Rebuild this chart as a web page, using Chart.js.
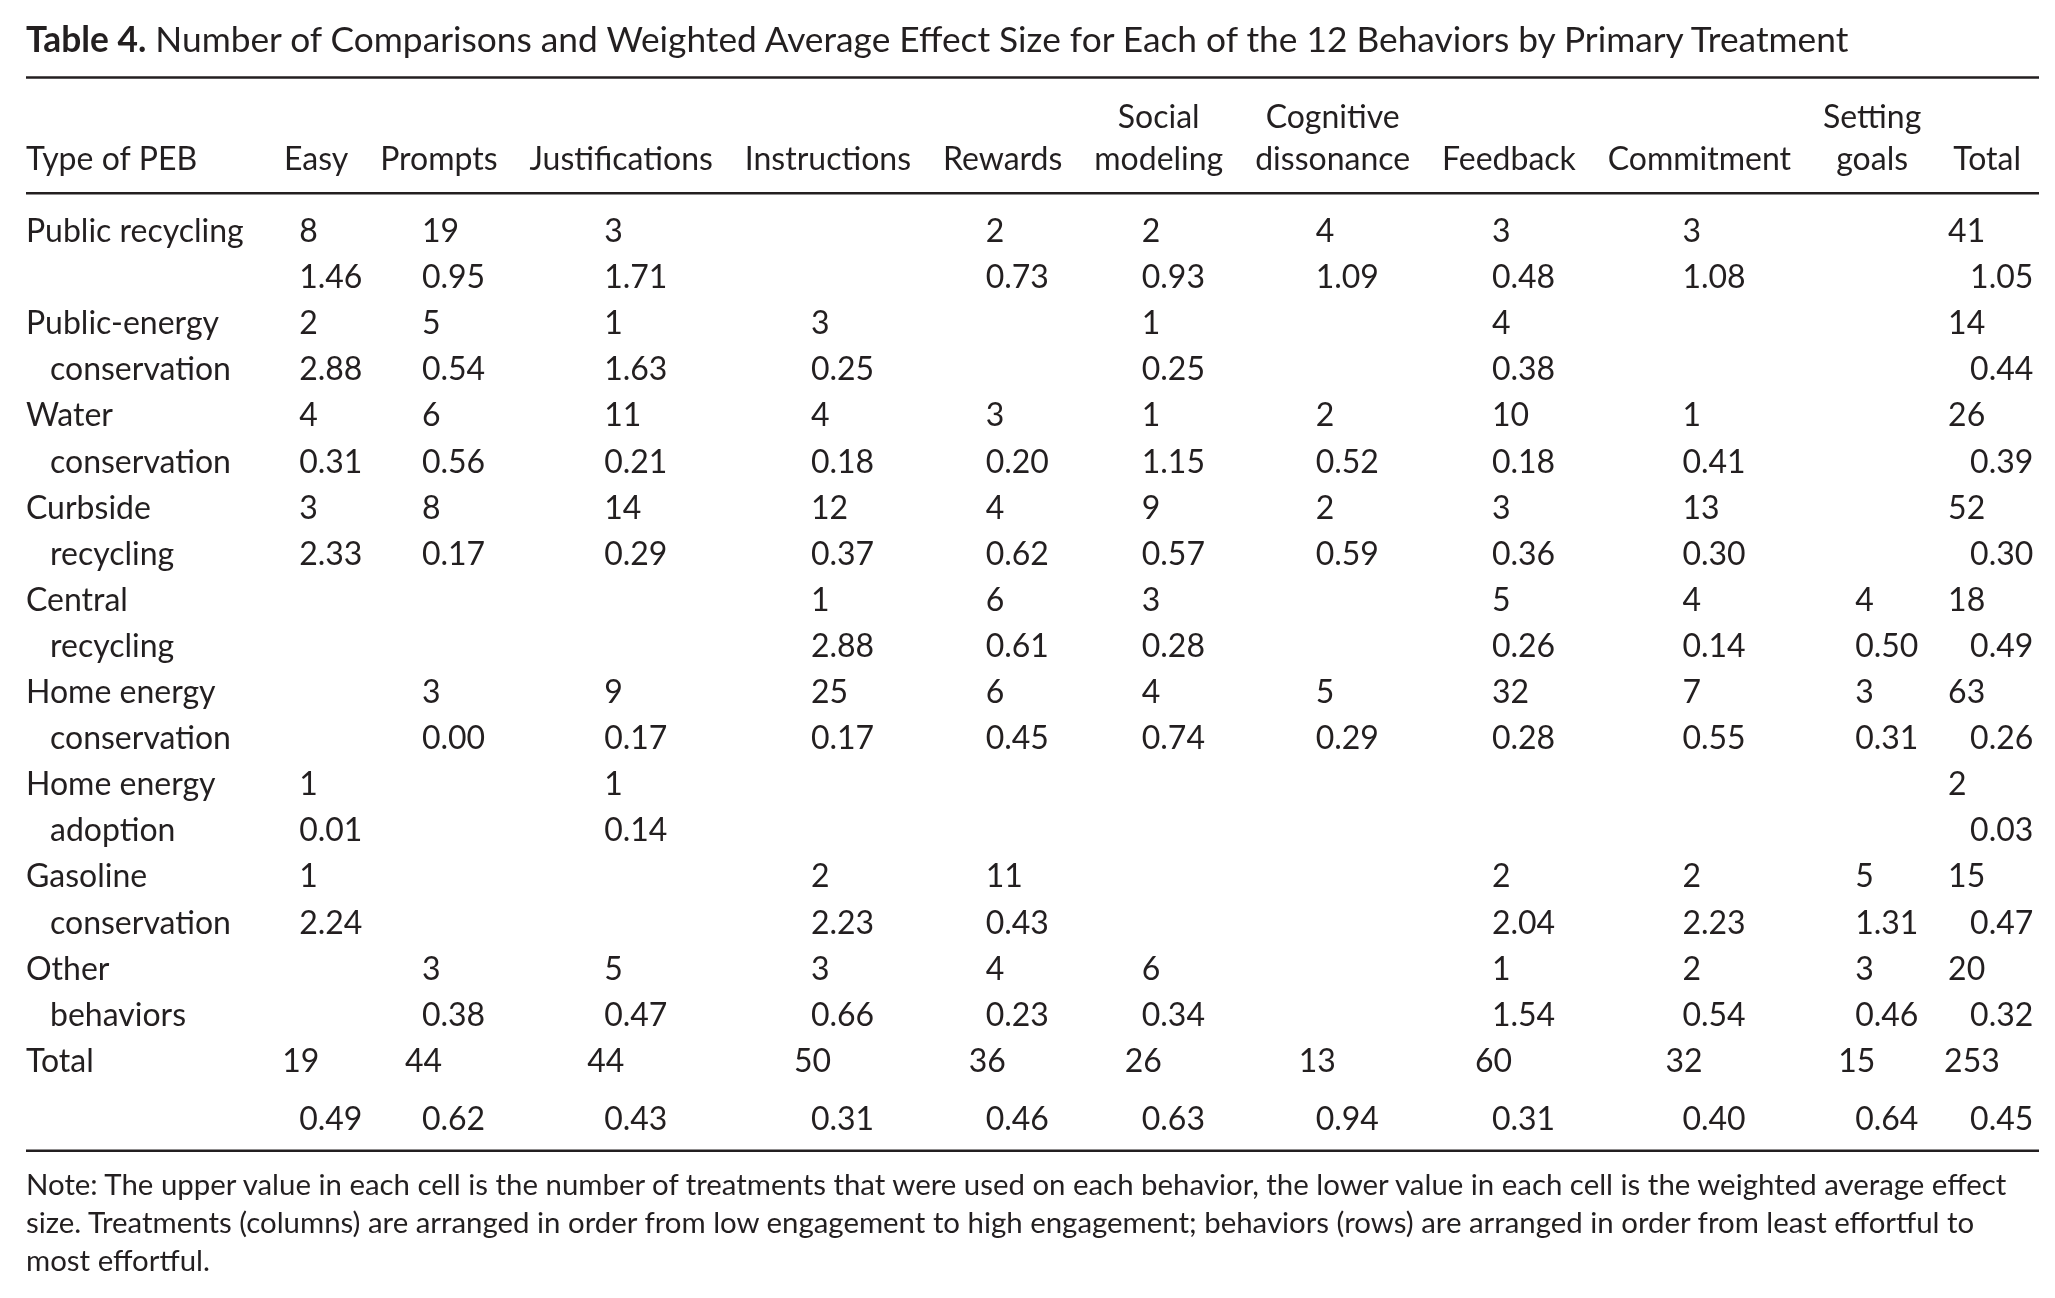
<!DOCTYPE html>
<html>
<head>
<meta charset="utf-8">
<title>Table 4</title>
<script src="https://cdn.jsdelivr.net/npm/chart.js@4.4.1/dist/chart.umd.min.js"></script>
<style>
  body { margin: 0; background: #fff; }
  #page { position: relative; width: 2055px; height: 1298px; font-family: Lato, 'Open Sans', sans-serif; color: #231f20; }
  #title { position: absolute; left: 26px; top: 21px; font-size: 35.3px; line-height: 35px; white-space: nowrap; }
  #chart-box { position: absolute; left: 0; top: 0; width: 2055px; height: 1298px; }
  #note { position: absolute; left: 26px; top: 1165px; font-size: 29.4px; line-height: 38px; white-space: nowrap; }
</style>
</head>
<body>
<div id="page">
  <div id="chart-box"><canvas id="table-chart"></canvas></div>
  <div id="title"><b>Table 4.</b> Number of Comparisons and Weighted Average Effect Size for Each of the 12 Behaviors by Primary Treatment</div>
  <div id="note">Note: The upper value in each cell is the number of treatments that were used on each behavior, the lower value in each cell is the weighted average effect<br>size. Treatments (columns) are arranged in order from low engagement to high engagement; behaviors (rows) are arranged in order from least effortful to<br>most effortful.</div>
</div>
<script>
const TEXT_COLOR = '#231f20';
const FONT = 'Lato';

const rowHeader = 'Type of PEB';

const treatments = [
  ['', 'Easy'], ['', 'Prompts'], ['', 'Justifications'], ['', 'Instructions'],
  ['', 'Rewards'], ['Social', 'modeling'], ['Cognitive', 'dissonance'],
  ['', 'Feedback'], ['', 'Commitment'], ['Setting', 'goals'], ['', 'Total']
];

const behaviors = [
  ['Public recycling'],
  ['Public-energy', 'conservation'],
  ['Water', 'conservation'],
  ['Curbside', 'recycling'],
  ['Central', 'recycling'],
  ['Home energy', 'conservation'],
  ['Home energy', 'adoption'],
  ['Gasoline', 'conservation'],
  ['Other', 'behaviors'],
  ['Total']
];

// upper value: number of treatments
const counts = [
  [8, 19, 3, null, 2, 2, 4, 3, 3, null, 41],
  [2, 5, 1, 3, null, 1, null, 4, null, null, 14],
  [4, 6, 11, 4, 3, 1, 2, 10, 1, null, 26],
  [3, 8, 14, 12, 4, 9, 2, 3, 13, null, 52],
  [null, null, null, 1, 6, 3, null, 5, 4, 4, 18],
  [null, 3, 9, 25, 6, 4, 5, 32, 7, 3, 63],
  [1, null, 1, null, null, null, null, null, null, null, 2],
  [1, null, null, 2, 11, null, null, 2, 2, 5, 15],
  [null, 3, 5, 3, 4, 6, null, 1, 2, 3, 20],
  [19, 44, 44, 50, 36, 26, 13, 60, 32, 15, 253]
];

// lower value: weighted average effect size
const effects = [
  [1.46, 0.95, 1.71, null, 0.73, 0.93, 1.09, 0.48, 1.08, null, 1.05],
  [2.88, 0.54, 1.63, 0.25, null, 0.25, null, 0.38, null, null, 0.44],
  [0.31, 0.56, 0.21, 0.18, 0.20, 1.15, 0.52, 0.18, 0.41, null, 0.39],
  [2.33, 0.17, 0.29, 0.37, 0.62, 0.57, 0.59, 0.36, 0.30, null, 0.30],
  [null, null, null, 2.88, 0.61, 0.28, null, 0.26, 0.14, 0.50, 0.49],
  [null, 0.00, 0.17, 0.17, 0.45, 0.74, 0.29, 0.28, 0.55, 0.31, 0.26],
  [0.01, null, 0.14, null, null, null, null, null, null, null, 0.03],
  [2.24, null, null, 2.23, 0.43, null, null, 2.04, 2.23, 1.31, 0.47],
  [null, 0.38, 0.47, 0.66, 0.23, 0.34, null, 1.54, 0.54, 0.46, 0.32],
  [0.49, 0.62, 0.43, 0.31, 0.46, 0.63, 0.94, 0.31, 0.40, 0.64, 0.45]
];

// layout, in canvas pixels / text lines
const BODY_SIZE = 32;
const ROW_PITCH = 46.1;
const FIRST_LINE = 230.5;
const TABLE_LEFT = 26, TABLE_RIGHT = 2039;
const FIRST_COL_LEFT = 284, LAST_COL_RIGHT = 2021;
const LAST_ROW = behaviors.length - 1;

function lineOf(r, lower) {
  let y = 2 * r + (lower ? 1 : 0);
  if (lower && r === LAST_ROW) y += 0.27; // total row sits a bit lower
  return y;
}

// column centres from header widths, like a table would lay them out
function columnCenters() {
  const ctx = document.createElement('canvas').getContext('2d');
  ctx.font = `${BODY_SIZE}px ${FONT}`;
  const minW = ctx.measureText('0.00').width;
  const widths = treatments.map(h => Math.max(minW, ...h.map(s => ctx.measureText(s).width)));
  const used = widths.reduce((a, b) => a + b, 0);
  const gap = (LAST_COL_RIGHT - FIRST_COL_LEFT - used) / (widths.length - 1);
  const centers = [];
  let x = FIRST_COL_LEFT;
  widths.forEach(w => { centers.push(x + w / 2); x += w + gap; });
  return centers;
}

const colX = columnCenters();

function cellPoints(table, lower) {
  const pts = [];
  table.forEach((row, r) => row.forEach((v, c) => {
    if (v !== null) pts.push({ x: colX[c], y: lineOf(r, lower), v, r, c });
  }));
  return pts;
}

function textY(scale, line) {
  // alphabetic baseline so the cap height is centred on the line
  return scale.getPixelForValue(line) + BODY_SIZE * 0.36;
}

const tableText = {
  id: 'tableText',
  afterDatasetsDraw(chart) {
    const { ctx } = chart;
    const xs = chart.scales.x, ys = chart.scales.y;
    ctx.save();
    ctx.fillStyle = TEXT_COLOR;
    ctx.strokeStyle = TEXT_COLOR;
    ctx.font = `${BODY_SIZE}px ${FONT}`;
    ctx.textBaseline = 'alphabetic';

    // rules
    ctx.lineWidth = 2.5;
    [-3.32, -0.81, 19.96].forEach(l => {
      const y = ys.getPixelForValue(l);
      ctx.beginPath();
      ctx.moveTo(xs.getPixelForValue(TABLE_LEFT), y);
      ctx.lineTo(xs.getPixelForValue(TABLE_RIGHT), y);
      ctx.stroke();
    });

    // column headers
    ctx.textAlign = 'left';
    ctx.fillText(rowHeader, xs.getPixelForValue(TABLE_LEFT), textY(ys, -1.57));
    ctx.textAlign = 'center';
    treatments.forEach((h, c) => {
      const x = xs.getPixelForValue(colX[c]);
      if (h[0]) ctx.fillText(h[0], x, textY(ys, -2.48));
      ctx.fillText(h[1], x, textY(ys, -1.57));
    });

    // row labels
    ctx.textAlign = 'left';
    behaviors.forEach((b, r) => {
      ctx.fillText(b[0], xs.getPixelForValue(TABLE_LEFT), textY(ys, lineOf(r, false)));
      if (b[1]) ctx.fillText(b[1], xs.getPixelForValue(TABLE_LEFT + 24), textY(ys, lineOf(r, true)));
    });

    // cells
    const lastCol = treatments.length - 1;
    chart.data.datasets.forEach((ds, di) => {
      const meta = chart.getDatasetMeta(di);
      meta.data.forEach((el, i) => {
        const p = ds.data[i];
        let x = el.x - 17;
        let label;
        if (di === 0) {
          label = String(p.v);
          if (p.c === lastCol) x -= p.r === LAST_ROW ? 26 : 22;
          else if (p.r === LAST_ROW) x -= 17;
        } else {
          label = p.v.toFixed(2);
        }
        ctx.fillText(label, x, el.y + BODY_SIZE * 0.36);
      });
    });
    ctx.restore();
  }
};

new Chart(document.getElementById('table-chart'), {
  type: 'scatter',
  data: {
    datasets: [
      { label: 'Number of treatments', data: cellPoints(counts, false), pointRadius: 0 },
      { label: 'Weighted average effect size', data: cellPoints(effects, true), pointRadius: 0 }
    ]
  },
  options: {
    responsive: true,
    maintainAspectRatio: false,
    animation: false,
    events: [],
    layout: { padding: 0 },
    plugins: { legend: { display: false }, tooltip: { enabled: false } },
    scales: {
      x: { type: 'linear', display: false, min: 0, max: 2055 },
      y: { type: 'linear', display: false, reverse: true,
           min: -FIRST_LINE / ROW_PITCH, max: (1298 - FIRST_LINE) / ROW_PITCH }
    }
  },
  plugins: [tableText]
});
</script>
</body>
</html>
